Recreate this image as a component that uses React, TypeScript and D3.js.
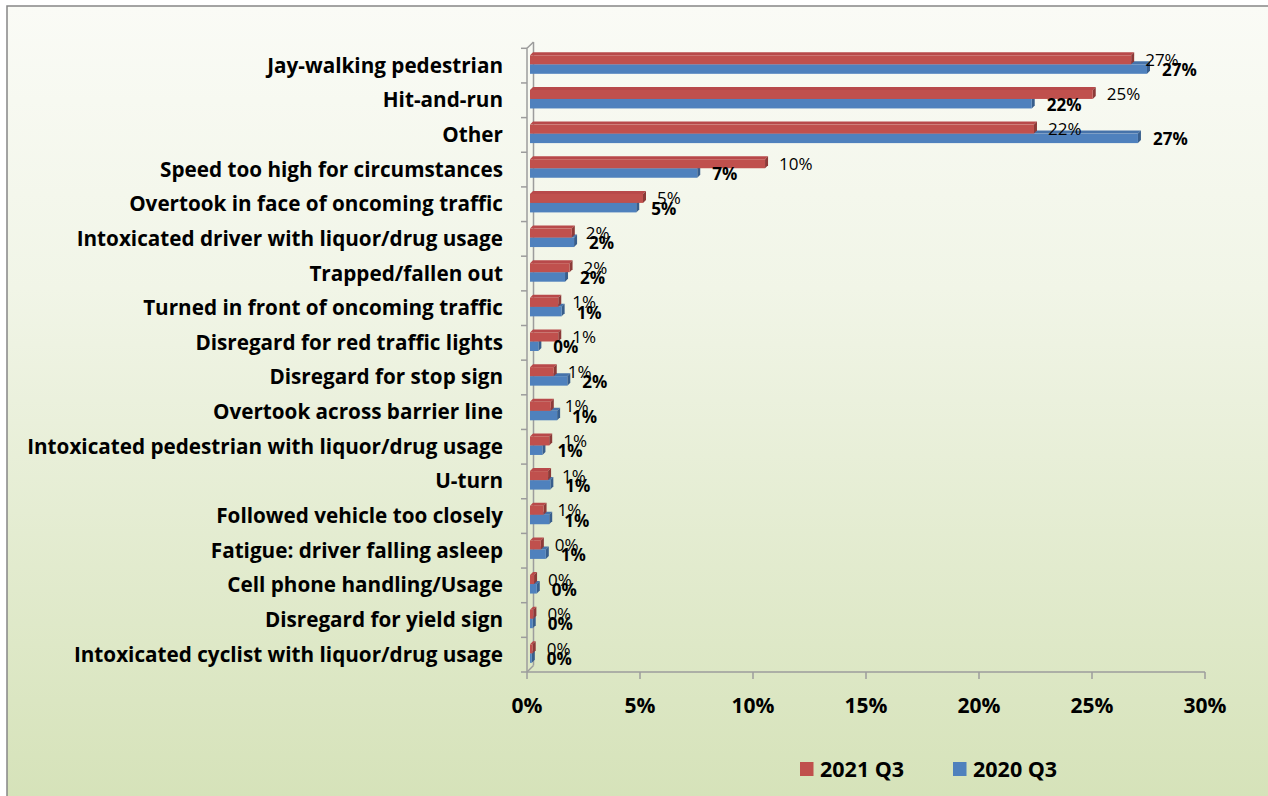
import * as d3 from "d3";
import * as React from "react";

const categories = [
  "Jay-walking pedestrian",
  "Hit-and-run",
  "Other",
  "Speed too high for circumstances",
  "Overtook in face of oncoming traffic",
  "Intoxicated driver with liquor/drug usage",
  "Trapped/fallen out",
  "Turned in front of oncoming traffic",
  "Disregard for red traffic lights",
  "Disregard for stop sign",
  "Overtook across barrier line",
  "Intoxicated pedestrian with liquor/drug usage",
  "U-turn",
  "Followed vehicle too closely",
  "Fatigue: driver falling asleep",
  "Cell phone handling/Usage",
  "Disregard for yield sign",
  "Intoxicated cyclist with liquor/drug usage",
];

// percentages
const q3_2021 = [26.6, 24.9, 22.3, 10.4, 5.0, 1.85, 1.75, 1.25, 1.25, 1.05, 0.92, 0.85, 0.8, 0.6, 0.48, 0.18, 0.15, 0.12];
const q3_2020 = [27.3, 22.2, 26.9, 7.4, 4.7, 1.95, 1.55, 1.4, 0.37, 1.65, 1.2, 0.55, 0.9, 0.85, 0.7, 0.3, 0.12, 0.08];

const xTicks = [0, 5, 10, 15, 20, 25, 30];
const seriesNames = ["2021 Q3", "2020 Q3"];

const FONT = "'Open Sans', Lato, sans-serif";
const W = 1268;
const H = 796;
const DEPTH = 3;

const red = { front: "#c0504d", side: "#8c3a38", top: "#b8494a" };
const blue = { front: "#4f81bd", side: "#385e8c", top: "#4673aa" };

export default function App() {
  const x = d3.scaleLinear().domain([0, 30]).range([527, 1205]);
  const y = d3.scaleBand<string>().domain(categories).range([48.3, 672]).padding(0);
  const fmt = d3.format(".0%");
  const bw = y.bandwidth();

  const bar3d = (key: string, v: number, top: number, h: number, c: typeof red) => {
    const x0 = x(0) + DEPTH;
    const x1 = x(v) + DEPTH;
    return (
      <g key={key}>
        <polygon points={`${x0},${top} ${x0 + DEPTH},${top - DEPTH} ${x1 + DEPTH},${top - DEPTH} ${x1},${top}`} fill={c.top} />
        <polygon points={`${x1},${top} ${x1 + DEPTH},${top - DEPTH} ${x1 + DEPTH},${top + h - DEPTH} ${x1},${top + h}`} fill={c.side} />
        <rect x={x0} y={top} width={x1 - x0} height={h} fill={c.front} />
      </g>
    );
  };

  const bands = d3.range(categories.length + 1).map((i) => 48.3 + i * bw);

  return (
    <svg width={W} height={H} style={{ position: "absolute", left: 0, top: 0 }} fontFamily={FONT}>
      <defs>
        <linearGradient id="bg" x1="0" y1="0" x2="0" y2="1">
          <stop offset="0" stopColor="#fafbf6" />
          <stop offset="0.35" stopColor="#f1f5e7" />
          <stop offset="1" stopColor="#d5e2b8" />
        </linearGradient>
      </defs>
      <rect x={0} y={0} width={W} height={H} fill="#ffffff" />
      <rect x={7} y={6} width={W + 10} height={H + 10} fill="url(#bg)" stroke="#868686" strokeWidth={1.5} />

      {/* vertical axis wall */}
      <g stroke="#9c9c9c" strokeWidth={1.5} fill="none">
        <line x1={x(0)} y1={48.3} x2={x(0)} y2={672} />
        <line x1={x(0) + 6.5} y1={42} x2={x(0) + 6.5} y2={665.5} />
        <line x1={x(0)} y1={48.3} x2={x(0) + 6.5} y2={42} />
        <line x1={x(0)} y1={672} x2={x(0) + 6.5} y2={665.5} />
        {bands.map((b, i) => (
          <line key={"yt" + i} x1={x(0) - 6} y1={b} x2={x(0)} y2={b} />
        ))}
        <line x1={x(0)} y1={672} x2={x(30)} y2={672} />
        {xTicks.map((t) => (
          <line key={"xt" + t} x1={x(t)} y1={672} x2={x(t)} y2={679} />
        ))}
      </g>

      {categories.map((c, i) => {
        const top = y(c)!;
        return (
          <g key={c}>
            {bar3d("b" + i, q3_2020[i], top + 16, 9.5, blue)}
            {bar3d("r" + i, q3_2021[i], top + 7, 9, red)}
          </g>
        );
      })}

      {categories.map((c, i) => {
        const top = y(c)!;
        return (
          <g key={"lab" + c} fontSize={17}>
            <text x={x(q3_2021[i]) + DEPTH + 14} y={top + 11.5 + 6} fill="#000">
              {fmt(q3_2021[i] / 100)}
            </text>
            <text x={x(q3_2020[i]) + DEPTH + 15} y={top + 20.75 + 7} fill="#000" fontWeight="bold">
              {fmt(q3_2020[i] / 100)}
            </text>
          </g>
        );
      })}

      {categories.map((c) => (
        <text key={"cat" + c} x={503} y={y(c)! + bw / 2 + 7} textAnchor="end" fontWeight="bold" fontSize={20.7} fill="#000">
          {c}
        </text>
      ))}

      {xTicks.map((t) => (
        <text key={"xl" + t} x={x(t)} y={713} textAnchor="middle" fontWeight="bold" fontSize={21} fill="#000">
          {fmt(t / 100)}
        </text>
      ))}

      {seriesNames.map((s, i) => (
        <g key={s}>
          <rect x={[800, 953][i]} y={762} width={13.5} height={14} fill={[red.front, blue.front][i]} />
          <text x={[820, 973][i]} y={777} fontWeight="bold" fontSize={21.5} fill="#000">
            {s}
          </text>
        </g>
      ))}
    </svg>
  );
}
